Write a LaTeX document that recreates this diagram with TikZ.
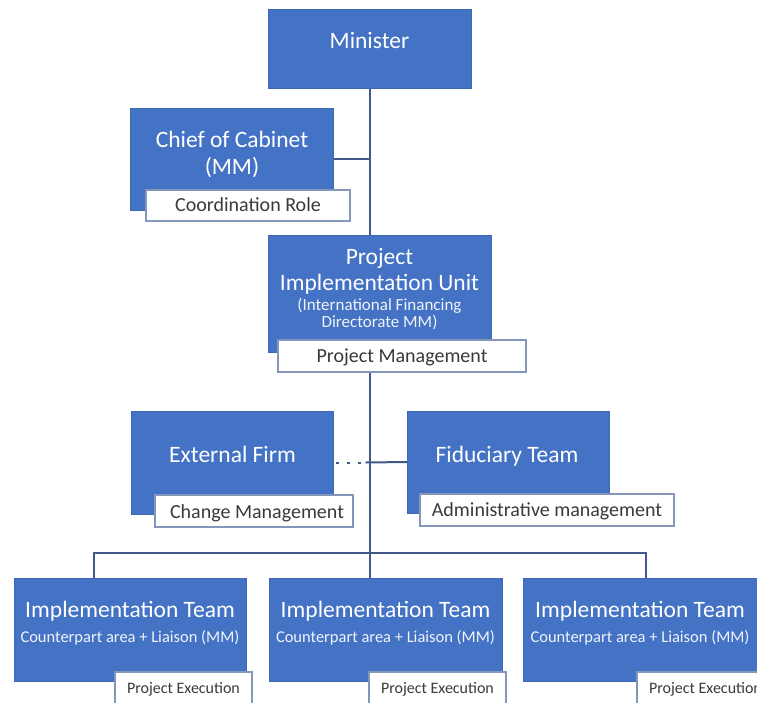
\documentclass[tikz,border=0pt]{standalone}
\usepackage{fontspec}
\setmainfont{Carlito}
\definecolor{boxblue}{HTML}{4472C4}
\definecolor{boxedge}{HTML}{3D68B5}
\definecolor{tagedge}{HTML}{8497BA}
\definecolor{linkcol}{HTML}{41598A}
\definecolor{tagtext}{HTML}{3A3A3A}
\begin{document}
\begin{tikzpicture}[x=1pt,y=-1pt,
  bluebox/.style={fill=boxblue,draw=boxedge,line width=0.8pt,inner sep=0pt,outer sep=0pt},
  tagbox/.style={fill=white,draw=tagedge,line width=1.2pt,inner sep=0pt,outer sep=0pt},
  ttl/.style={text=white,inner sep=0pt,anchor=base,font=\fontsize{23.5}{26}\selectfont},
  subt/.style={text=white!92!boxblue,inner sep=0pt,anchor=base,font=\fontsize{16.5}{15}\selectfont},
  piusub/.style={text=white!92!boxblue,inner sep=0pt,anchor=base,font=\fontsize{17}{15}\selectfont},
  tagt/.style={text=tagtext,inner sep=0pt,anchor=base,font=\fontsize{20}{22}\selectfont},
  exect/.style={text=tagtext,inner sep=0pt,anchor=base,font=\fontsize{16}{18}\selectfont},
  link/.style={draw=linkcol,line width=2pt},
  linkdot/.style={draw=linkcol,line width=2pt,dash pattern=on 3pt off 8pt}]
\useasboundingbox (0,0) rectangle (757,702);
\clip (0,0) rectangle (757,702);
\fill[white] (0,0) rectangle (757,702);

% box shapes (no text) for coordinates
\path
  node[bluebox,minimum width=203pt,minimum height=79pt] (min) at (369.5,48.5) {}
  node[bluebox,minimum width=203pt,minimum height=102pt] (chief) at (231.5,159) {}
  node[bluebox,minimum width=223pt,minimum height=117pt] (piu) at (379.5,293.5) {}
  node[bluebox,minimum width=202pt,minimum height=103pt] (ext) at (232,462.5) {}
  node[bluebox,minimum width=202pt,minimum height=102pt] (fid) at (508,462) {}
  node[bluebox,minimum width=232pt,minimum height=103pt] (t1) at (130,629.5) {}
  node[bluebox,minimum width=233pt,minimum height=103pt] (t2) at (385.5,629.5) {}
  node[bluebox,minimum width=234pt,minimum height=103pt] (t3) at (640,629.5) {};

% connectors
\coordinate (d1) at (94,553);
\coordinate (d3) at (646,553);
\coordinate (busmid) at (min.south |- d1);
\draw[link] (min.south) -- (min.south |- piu.north);
\draw[link] (chief.east) -- (chief.east -| min.south);
\draw[link] (min.south |- piu.south) -- (min.south |- t2.north);
\draw[linkdot] ([xshift=3pt]ext.east) -- ([xshift=-4pt]ext.east -| min.south);
\draw[link] ([xshift=-4pt]ext.east -| min.south) -- (fid.west);
\draw[link] (d1 |- t1.north) -- (d1) -- (busmid) -- (d3) -- (d3 |- t3.north);

% boxes drawn again on top of connectors
\path
  node[bluebox,minimum width=203pt,minimum height=79pt] (minb) at (min) {}
  node[bluebox,minimum width=203pt,minimum height=102pt] (chiefb) at (chief) {}
  node[bluebox,minimum width=223pt,minimum height=117pt] (piub) at (piu) {}
  node[bluebox,minimum width=202pt,minimum height=103pt] (extb) at (ext) {}
  node[bluebox,minimum width=202pt,minimum height=102pt] (fidb) at (fid) {}
  node[bluebox,minimum width=232pt,minimum height=103pt] (t1b) at (t1) {}
  node[bluebox,minimum width=233pt,minimum height=103pt] (t2b) at (t2) {}
  node[bluebox,minimum width=234pt,minimum height=103pt] (t3b) at (t3) {};

% tag boxes
\path
  node[tagbox,minimum width=204pt,minimum height=31pt] (coord) at (248,205.5) {}
  node[tagbox,minimum width=248pt,minimum height=32pt] (pm) at (402,356) {}
  node[tagbox,minimum width=198pt,minimum height=32pt] (cm) at (254,511) {}
  node[tagbox,minimum width=254pt,minimum height=32pt] (adm) at (547,510) {}
  node[tagbox,minimum width=137pt,minimum height=33pt] (pe1) at (183.5,688.5) {}
  node[tagbox,minimum width=137pt,minimum height=33pt] (pe2) at (437.5,688.5) {}
  node[tagbox,minimum width=137pt,minimum height=33pt] (pe3) at (705.5,688.5) {};

% texts
\node[ttl] (min-t) at (369.5,48) {Minister};
\node[ttl] (chief-t1) at (232,147) {Chief of Cabinet};
\node[ttl] (chief-t2) at (232,174) {(MM)};
\node[tagt] (coord-t) at (248,211.5) {Coordination Role};
\node[ttl] (piu-t1) at (379.5,264) {Project};
\node[ttl] (piu-t2) at (379.5,290) {Implementation Unit};
\node[piusub] (piu-t3) at (379.5,310) {(International Financing};
\node[piusub] (piu-t4) at (379.5,327.5) {Directorate MM)};
\node[tagt] (pm-t) at (402,362) {Project Management};
\node[ttl] (ext-t) at (232.5,462) {External Firm};
\node[tagt] (cm-t) at (257,518) {Change Management};
\node[ttl] (fid-t) at (507,462) {Fiduciary Team};
\node[tagt] (adm-t) at (547,516) {Administrative management};
\node[ttl] (t1-t1) at (130,617) {Implementation Team};
\node[subt] (t1-t2) at (130,642) {Counterpart area + Liaison (MM)};
\node[ttl] (t2-t1) at (385.5,617) {Implementation Team};
\node[subt] (t2-t2) at (385.5,642) {Counterpart area + Liaison (MM)};
\node[ttl] (t3-t1) at (640,617) {Implementation Team};
\node[subt] (t3-t2) at (640,642) {Counterpart area + Liaison (MM)};
\node[exect] (pe1-t) at (183.5,693) {Project Execution};
\node[exect] (pe2-t) at (437.5,693) {Project Execution};
\node[exect] (pe3-t) at (705.5,693) {Project Execution};
\end{tikzpicture}
\end{document}
